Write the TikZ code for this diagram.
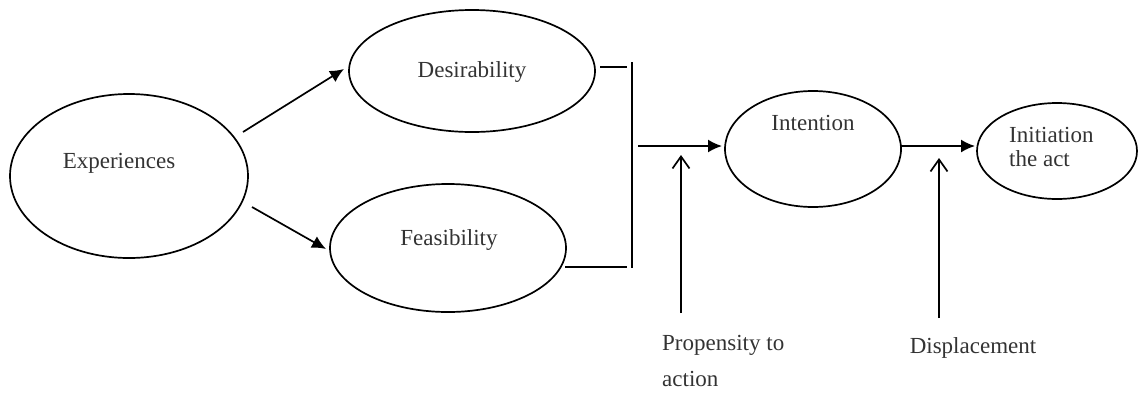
\documentclass[tikz,border=0pt]{standalone}
\usepackage{fontspec}
\setmainfont{Liberation Serif}
\usetikzlibrary{shapes.geometric,arrows.meta}
\begin{document}
\begin{tikzpicture}[x=1pt,y=-1pt,
  oval/.style={draw,ellipse,line width=1.7pt,inner sep=0pt},
  lbl/.style={font=\fontsize{23}{28}\selectfont,inner sep=0pt,text=black!80},
  conn/.style={line width=1.7pt},
  solidarrow/.style={conn,-{Latex[length=14pt,width=13pt]}},
  openarrow/.style={conn,-{Straight Barb[length=12pt,width=17pt]}}]
\useasboundingbox (0,0) rectangle (1139,392);
% ellipses
\node[oval,minimum width=238pt,minimum height=164pt] (exp) at (129,176) {};
\node[oval,minimum width=246pt,minimum height=122pt] (des) at (472,71) {};
\node[oval,minimum width=236pt,minimum height=128pt] (fea) at (448,248) {};
\node[oval,minimum width=176pt,minimum height=116pt] (int) at (813,149) {};
\node[oval,minimum width=160pt,minimum height=96pt] (ini) at (1057,151) {};
% texts
\node[lbl] (texp) at (119,163) {Experiences};
\node[lbl] (tdes) at (472,72) {Desirability};
\node[lbl] (tfea) at (449,240) {Feasibility};
\node[lbl] (tint) at (813,123) {Intention};
\node[lbl,align=left,anchor=west] (tini) at (1009,147) {Initiation\\[-4pt]the act};
\node[lbl,align=left,anchor=north west] (tprop) at (662,335) {Propensity to\\[8pt]action};
\node[lbl] (tdis) at (973,348) {Displacement};
% coordinates
\coordinate (e1) at (243,132);
\coordinate (d1) at (344,69);
\coordinate (e2) at (252,207);
\coordinate (f1) at (326,249);
\coordinate (bd) at (600,67);
\coordinate (bd2) at (627,67);
\coordinate (bf) at (565,267);
\coordinate (bf2) at (627,267);
\coordinate (bt) at (632,62);
\coordinate (bb) at (632,268);
\coordinate (a1) at (638,146);
\coordinate (a2) at (722,146);
\coordinate (p1) at (681,313);
\coordinate (p2) at (681,155);
\coordinate (i1) at (901,146);
\coordinate (i2) at (975,146);
\coordinate (q1) at (939,318);
\coordinate (q2) at (939,158);
% connectors
\draw[solidarrow] (e1) -- (d1);
\draw[solidarrow] (e2) -- (f1);
\draw[conn] (bd) -- (bd2);
\draw[conn] (bf) -- (bf2);
\draw[conn] (bt) -- (bb);
\draw[solidarrow] (a1) -- (a2);
\draw[openarrow] (p1) -- (p2);
\draw[solidarrow] (i1) -- (i2);
\draw[openarrow] (q1) -- (q2);
\end{tikzpicture}
\end{document}
